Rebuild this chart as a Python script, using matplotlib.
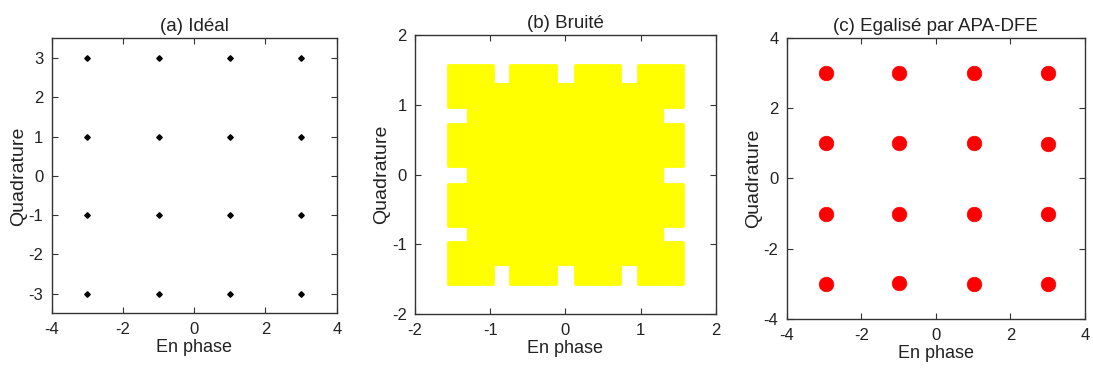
import matplotlib.pyplot as plt
from matplotlib.patches import Rectangle

# 16-QAM ideal constellation levels
levels = [-3, -1, 1, 3]

# (b) noisy cloud: cluster centres / half-width and inner filled core
noisy_centres = [-1.26, -0.43, 0.43, 1.27]
noisy_half = 0.30
core_half = 1.30

# (c) equalised cluster centres (slight offsets)
eq_x = [-2.95, -0.98, 1.02, 3.0,
        -2.95, -0.98, 1.02, 3.0,
        -2.95, -0.98, 1.02, 3.0,
        -2.95, -0.98, 1.02, 3.0]
eq_y = [3.0, 3.0, 3.0, 3.0,
        1.02, 1.0, 1.0, 0.98,
        -1.0, -1.02, -1.0, -1.0,
        -3.0, -2.98, -3.0, -3.0]

plt.rcParams['font.family'] = 'Liberation Sans'
plt.rcParams['font.size'] = 12
plt.rcParams['axes.unicode_minus'] = False
frame = '#333333'
text_col = '#222222'


def style(ax, xlim, ylim, xticks, yticks, title):
    ax.set_xlim(xlim)
    ax.set_ylim(ylim)
    ax.set_xticks(xticks)
    ax.set_yticks(yticks)
    ax.tick_params(direction='in', length=4, width=0.8, color=frame, labelcolor=text_col,
                   top=True, right=True, labelsize=12, pad=6)
    for s in ax.spines.values():
        s.set_color(frame)
        s.set_linewidth(1.0)
    ax.set_title(title, fontsize=13.5, pad=5, color=text_col)
    ax.set_xlabel('En phase', fontsize=13, labelpad=2, color=text_col)
    ax.set_ylabel('Quadrature', fontsize=14, labelpad=1, color=text_col)


fig = plt.figure(figsize=(10.93, 3.71), dpi=100)
ax1 = fig.add_axes([0.0473, 0.1555, 0.2608, 0.7412])
ax2 = fig.add_axes([0.3797, 0.1528, 0.2751, 0.7528])
ax3 = fig.add_axes([0.7198, 0.1394, 0.2729, 0.7590])

# (a) ideal
xs = [x for y in levels for x in levels]
ys = [y for y in levels for x in levels]
ax1.plot(xs, ys, 'D', color='black', ms=2.8, ls='none')
style(ax1, (-4, 4), (-3.5, 3.5), [-4, -2, 0, 2, 4], [-3, -2, -1, 0, 1, 2, 3], '(a) Idéal')

# (b) noisy
yellow = '#ffff00'
ax2.add_patch(Rectangle((-core_half, -core_half), 2 * core_half, 2 * core_half,
                        facecolor=yellow, edgecolor=yellow, lw=1.5))
for cx in noisy_centres:
    for cy in noisy_centres:
        ax2.add_patch(Rectangle((cx - noisy_half, cy - noisy_half), 2 * noisy_half, 2 * noisy_half,
                                facecolor=yellow, edgecolor=yellow, lw=2, joinstyle='round'))
style(ax2, (-2, 2), (-2, 2), [-2, -1, 0, 1, 2], [-2, -1, 0, 1, 2], '(b) Bruité')

# (c) equalised
ax3.plot(eq_x, eq_y, 'o', color='#ff0000', ms=10.5, mec='#ff0000', mew=0.5, ls='none')
style(ax3, (-4, 4), (-4, 4), [-4, -2, 0, 2, 4], [-4, -2, 0, 2, 4], '(c) Egalisé par APA-DFE')

fig.savefig('out.png', dpi=100)
